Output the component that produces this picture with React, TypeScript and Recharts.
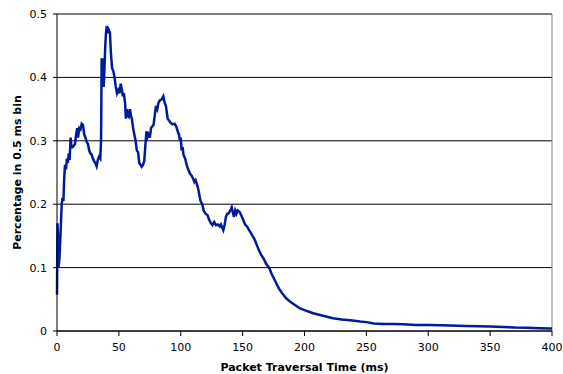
import { LineChart, Line, XAxis, YAxis, CartesianGrid, ReferenceLine, Label } from 'recharts'

const times = [
  0, 0.4, 0.8, 1.2, 2, 3, 3.8, 4.5, 5.2, 5.8, 6.5, 7.3, 8, 8.8, 9.5, 10.2, 11, 11.7, 12.5, 13.5,
  14.5, 15.5, 16.3, 17, 18, 19, 20, 21, 22, 23, 24, 25, 26, 27, 28, 29, 30, 31, 32, 33,
  34, 35, 35.6, 36.1, 36.6, 37.2, 37.7, 38.3, 39, 39.6, 40.2, 41, 41.8, 42.8, 43.5, 44.5, 45.5, 46.5, 47.5, 48.5,
  49.5, 50.5, 51.5, 52.5, 53.2, 54, 55, 55.7, 56.5, 57.2, 58, 59, 59.7, 60.5, 61.5, 62.5, 63.5, 64.5, 65.5, 66.5,
  67.5, 68.4, 69.5, 70.5, 71.3, 72.3, 73, 74, 75, 76, 77, 78, 79, 80, 81, 82, 83.2, 84.5, 85.9, 87,
  88, 89.4, 90.5, 92, 93.5, 95, 96.5, 97.5, 98.5, 99.4, 100, 100.7, 101.5, 102.2, 103.5, 104.8, 106, 107.5, 108.8, 110,
  111, 112, 113, 114, 115, 116, 117.4, 118.5, 120, 121.6, 123, 124.5, 125.6, 127, 128.5, 130, 131.5, 132.5, 133.5, 134.4,
  135.5, 136.5, 137.5, 138.4, 139.5, 140.5, 141.2, 142, 143, 144, 145, 146, 147.5, 149, 150.5, 152, 153.5, 155, 156.5, 158,
  159.5, 161.4, 163, 165, 167, 169, 171.6, 173.5, 176, 178, 180, 182.9, 185, 188, 192.3, 196, 200, 207, 215, 223,
  230, 237, 245, 250, 256, 263.6, 272, 280, 290, 300, 310, 317.6, 330, 340, 350, 360, 370, 380, 390, 398,
  400,
]

const percentages = [
  0.057, 0.17, 0.15, 0.1, 0.115, 0.16, 0.2, 0.21, 0.205, 0.24, 0.262, 0.255, 0.272, 0.265, 0.28, 0.27, 0.305, 0.29, 0.29, 0.292,
  0.295, 0.31, 0.32, 0.305, 0.32, 0.318, 0.327, 0.325, 0.31, 0.305, 0.298, 0.295, 0.285, 0.28, 0.278, 0.272, 0.268, 0.265, 0.26, 0.27,
  0.275, 0.272, 0.3, 0.43, 0.41, 0.43, 0.385, 0.41, 0.45, 0.47, 0.481, 0.47, 0.475, 0.47, 0.44, 0.415, 0.41, 0.4, 0.385, 0.375,
  0.38, 0.375, 0.39, 0.38, 0.37, 0.375, 0.36, 0.335, 0.35, 0.34, 0.338, 0.35, 0.34, 0.335, 0.32, 0.31, 0.3, 0.285, 0.282, 0.265,
  0.262, 0.259, 0.262, 0.268, 0.29, 0.315, 0.305, 0.31, 0.305, 0.32, 0.323, 0.325, 0.34, 0.355, 0.35, 0.36, 0.364, 0.365, 0.37, 0.36,
  0.355, 0.335, 0.332, 0.328, 0.326, 0.327, 0.322, 0.315, 0.31, 0.3, 0.305, 0.285, 0.29, 0.278, 0.272, 0.262, 0.255, 0.248, 0.245, 0.24,
  0.235, 0.238, 0.232, 0.225, 0.215, 0.205, 0.2, 0.19, 0.185, 0.183, 0.175, 0.17, 0.167, 0.172, 0.167, 0.168, 0.165, 0.168, 0.163, 0.159,
  0.168, 0.18, 0.185, 0.185, 0.188, 0.192, 0.195, 0.188, 0.18, 0.19, 0.185, 0.19, 0.188, 0.182, 0.175, 0.168, 0.165, 0.16, 0.155, 0.15,
  0.145, 0.136, 0.128, 0.12, 0.114, 0.106, 0.099, 0.09, 0.08, 0.072, 0.065, 0.057, 0.052, 0.047, 0.041, 0.036, 0.033, 0.028, 0.024, 0.02,
  0.018, 0.017, 0.015, 0.014, 0.012, 0.011, 0.011, 0.0105, 0.0095, 0.0095, 0.009, 0.0085, 0.008, 0.0075, 0.007, 0.0065, 0.0055, 0.005, 0.0045, 0.004,
  0.004,
]

const xTicks = [0, 50, 100, 150, 200, 250, 300, 350, 400]
const yTicks = [0, 0.1, 0.2, 0.3, 0.4, 0.5]

const data = times.map((t, i) => ({ time: t, pct: percentages[i] }))

const tickStyle = { fontSize: 11, fill: '#000', fontFamily: 'DejaVu Sans' }
const labelStyle = { fontSize: 11, fontWeight: 'bold', fill: '#000', fontFamily: 'DejaVu Sans' }

export default function App() {
  return (
    <div style={{ position: 'absolute', left: 0, top: 0, background: '#fff' }}>
      <LineChart width={563} height={374} data={data} margin={{ top: 14, right: 11, left: 0, bottom: 0 }}>
        <CartesianGrid vertical={false} stroke="#000" strokeWidth={1} />
        <XAxis
          dataKey="time"
          type="number"
          domain={[0, 400]}
          ticks={xTicks}
          height={43}
          axisLine={{ stroke: '#000' }}
          tickLine={{ stroke: '#000' }}
          tickSize={5}
          tickMargin={7}
          tick={tickStyle}
        >
          <Label value="Packet Traversal Time (ms)" position="insideBottom" offset={3} style={labelStyle} />
        </XAxis>
        <YAxis
          type="number"
          domain={[0, 0.5]}
          ticks={yTicks}
          width={57}
          axisLine={{ stroke: '#000' }}
          tickLine={{ stroke: '#000' }}
          tickSize={4}
          tickMargin={6}
          tick={tickStyle}
        >
          <Label
            value="Percentage in 0.5 ms bin"
            angle={-90}
            position="insideLeft"
            offset={17}
            style={{ ...labelStyle, textAnchor: 'middle' }}
          />
        </YAxis>
        <ReferenceLine x={400} stroke="#808080" />
        <Line
          type="linear"
          dataKey="pct"
          stroke="#001a99"
          strokeWidth={2.5}
          dot={false}
          isAnimationActive={false}
        />
      </LineChart>
    </div>
  )
}
